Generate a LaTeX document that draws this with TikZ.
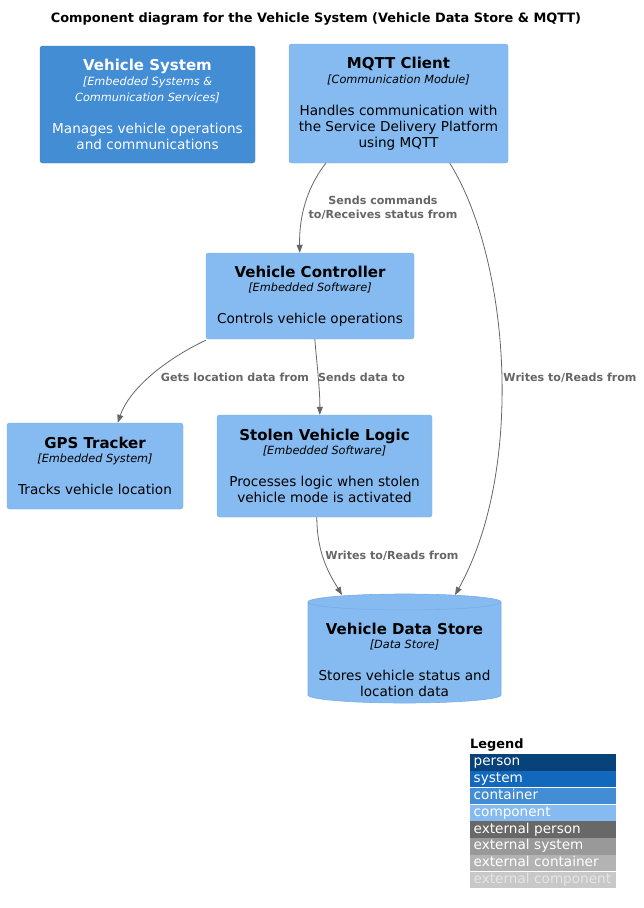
\documentclass[tikz,border=0pt]{standalone}
\usepackage{fontspec}
\setmainfont{DejaVu Sans}
\usetikzlibrary{arrows.meta,calc}
\definecolor{comp}{HTML}{85BBF0}
\definecolor{compb}{HTML}{78AEE3}
\definecolor{cont}{HTML}{438DD5}
\definecolor{contb}{HTML}{3C7FC0}
\definecolor{pers}{HTML}{08427B}
\definecolor{syst}{HTML}{1168BD}
\definecolor{extp}{HTML}{686868}
\definecolor{exts}{HTML}{999999}
\definecolor{extc}{HTML}{B3B3B3}
\definecolor{extcp}{HTML}{C8C8C8}
\definecolor{rel}{HTML}{666666}
\newcommand{\nmtxt}[1]{{\bfseries\fontsize{15}{16}\selectfont #1}}
\newcommand{\tctxt}[1]{{\itshape\fontsize{11.3}{16}\selectfont #1}}
\tikzset{
  box/.style={draw=compb, fill=comp, rounded corners=2.5pt, align=center, inner sep=0pt,
    font=\fontsize{13.6}{16}\selectfont},
  contbox/.style={box, draw=contb, fill=cont, text=white},
  rellabel/.style={text=rel, font=\bfseries\fontsize{11.1}{14}\selectfont, align=center, inner sep=0pt},
  relline/.style={draw=rel, line width=0.8pt, -{Triangle[length=8pt,width=6pt]}},
  legrow/.style={anchor=north west, minimum width=146, minimum height=16.4, inner sep=0pt, text=white,
    font=\fontsize{13.6}{14}\selectfont, text width=143, align=left, text height=10pt, text depth=3pt}
}
\begin{document}
\begin{tikzpicture}[x=1pt,y=-1pt]
\useasboundingbox (0,0) rectangle (643,908);
\node[font=\bfseries\fontsize{12.9}{15}\selectfont] (title) at (316,19) {Component diagram for the Vehicle System (Vehicle Data Store \& MQTT)};

\node[contbox, minimum width=215, minimum height=117] (vs) at (147.5,104.5)
 {\nmtxt{Vehicle System}\\[-1.5pt] \tctxt{[Embedded Systems \&}\\ \tctxt{Communication Services]}\\[16pt] Manages vehicle operations\\ and communications};

\node[box, minimum width=219, minimum height=119] (mq) at (398.5,103.5)
 {\nmtxt{MQTT Client}\\[-1.5pt] \tctxt{[Communication Module]}\\[16pt] Handles communication with\\ the Service Delivery Platform\\ using MQTT};

\node[box, minimum width=208, minimum height=86] (vc) at (310,296)
 {\nmtxt{Vehicle Controller}\\[-1.5pt] \tctxt{[Embedded Software]}\\[16pt] Controls vehicle operations};

\node[box, minimum width=176, minimum height=86] (gps) at (95,466)
 {\nmtxt{GPS Tracker}\\[-1.5pt] \tctxt{[Embedded System]}\\[16pt] Tracks vehicle location};

\node[box, minimum width=215, minimum height=102] (sv) at (324.5,466)
 {\nmtxt{Stolen Vehicle Logic}\\[-1.5pt] \tctxt{[Embedded Software]}\\[16pt] Processes logic when stolen\\ vehicle mode is activated};

% cylinder
\fill[comp] (308,602) -- (308,695) arc[start angle=180,end angle=0,x radius=96.5,y radius=8] -- (501,602) arc[start angle=0,end angle=-180,x radius=96.5,y radius=8] -- cycle;
\draw[compb, line width=0.6pt] (308,602) -- (308,695) arc[start angle=180,end angle=0,x radius=96.5,y radius=8] -- (501,602);
\draw[compb, line width=0.6pt] (404.5,602) ellipse[x radius=96.5, y radius=8];
\node[inner sep=0pt, minimum width=193, minimum height=109] (dsbox) at (404.5,648.5) {};
\node[align=center, inner sep=0pt, font=\fontsize{13.6}{16}\selectfont] (ds) at (404.5,660)
 {\nmtxt{Vehicle Data Store}\\[-1.5pt] \tctxt{[Data Store]}\\[16pt] Stores vehicle status and\\ location data};
\coordinate (dsl) at (342,595);
\coordinate (dsr) at (455,595);

% relations
\draw[relline] ([xshift=37pt]mq.south west) .. controls (305,190) and (299,220) .. ([xshift=94pt]vc.north west);
\node[rellabel] (l1) at (383,208) {Sends commands\\to/Receives status from};

\draw[relline] ([xshift=161pt]mq.south west) .. controls (510,260) and (525,470) .. (dsr);
\node[rellabel] (l2) at (570,377.5) {Writes to/Reads from};

\draw[relline] ([yshift=-1pt]vc.south west) .. controls (160,362) and (128,392) .. ([xshift=111pt]gps.north west);
\node[rellabel] (l3) at (235,377.5) {Gets location data from};

\draw[relline] ([xshift=109pt]vc.south west) .. controls (317,365) and (320,390) .. ([xshift=103pt]sv.north west);
\node[rellabel] (l4) at (361.5,377.5) {Sends data to};

\draw[relline] ([xshift=100pt]sv.south west) .. controls (317,555) and (330,575) .. (dsl);
\node[rellabel] (l5) at (392,555.5) {Writes to/Reads from};

% legend
\node[anchor=south west, inner sep=0pt, font=\bfseries\fontsize{12.9}{15}\selectfont] (legt) at (470,751) {Legend};
\node[legrow, fill=pers] (lg1) at (470,754) {\hspace*{2pt}person};
\node[legrow, fill=syst] (lg2) at (lg1.south west) {\hspace*{2pt}system};
\node[legrow, fill=cont] (lg3) at (lg2.south west) {\hspace*{2pt}container};
\node[legrow, fill=comp] (lg4) at (lg3.south west) {\hspace*{2pt}component};
\node[legrow, fill=extp] (lg5) at (lg4.south west) {\hspace*{2pt}external person};
\node[legrow, fill=exts] (lg6) at (lg5.south west) {\hspace*{2pt}external system};
\node[legrow, fill=extc] (lg7) at (lg6.south west) {\hspace*{2pt}external container};
\node[legrow, fill=extcp, text=white!90!black] (lg8) at (lg7.south west) {\hspace*{2pt}external component};
\end{tikzpicture}
\end{document}
